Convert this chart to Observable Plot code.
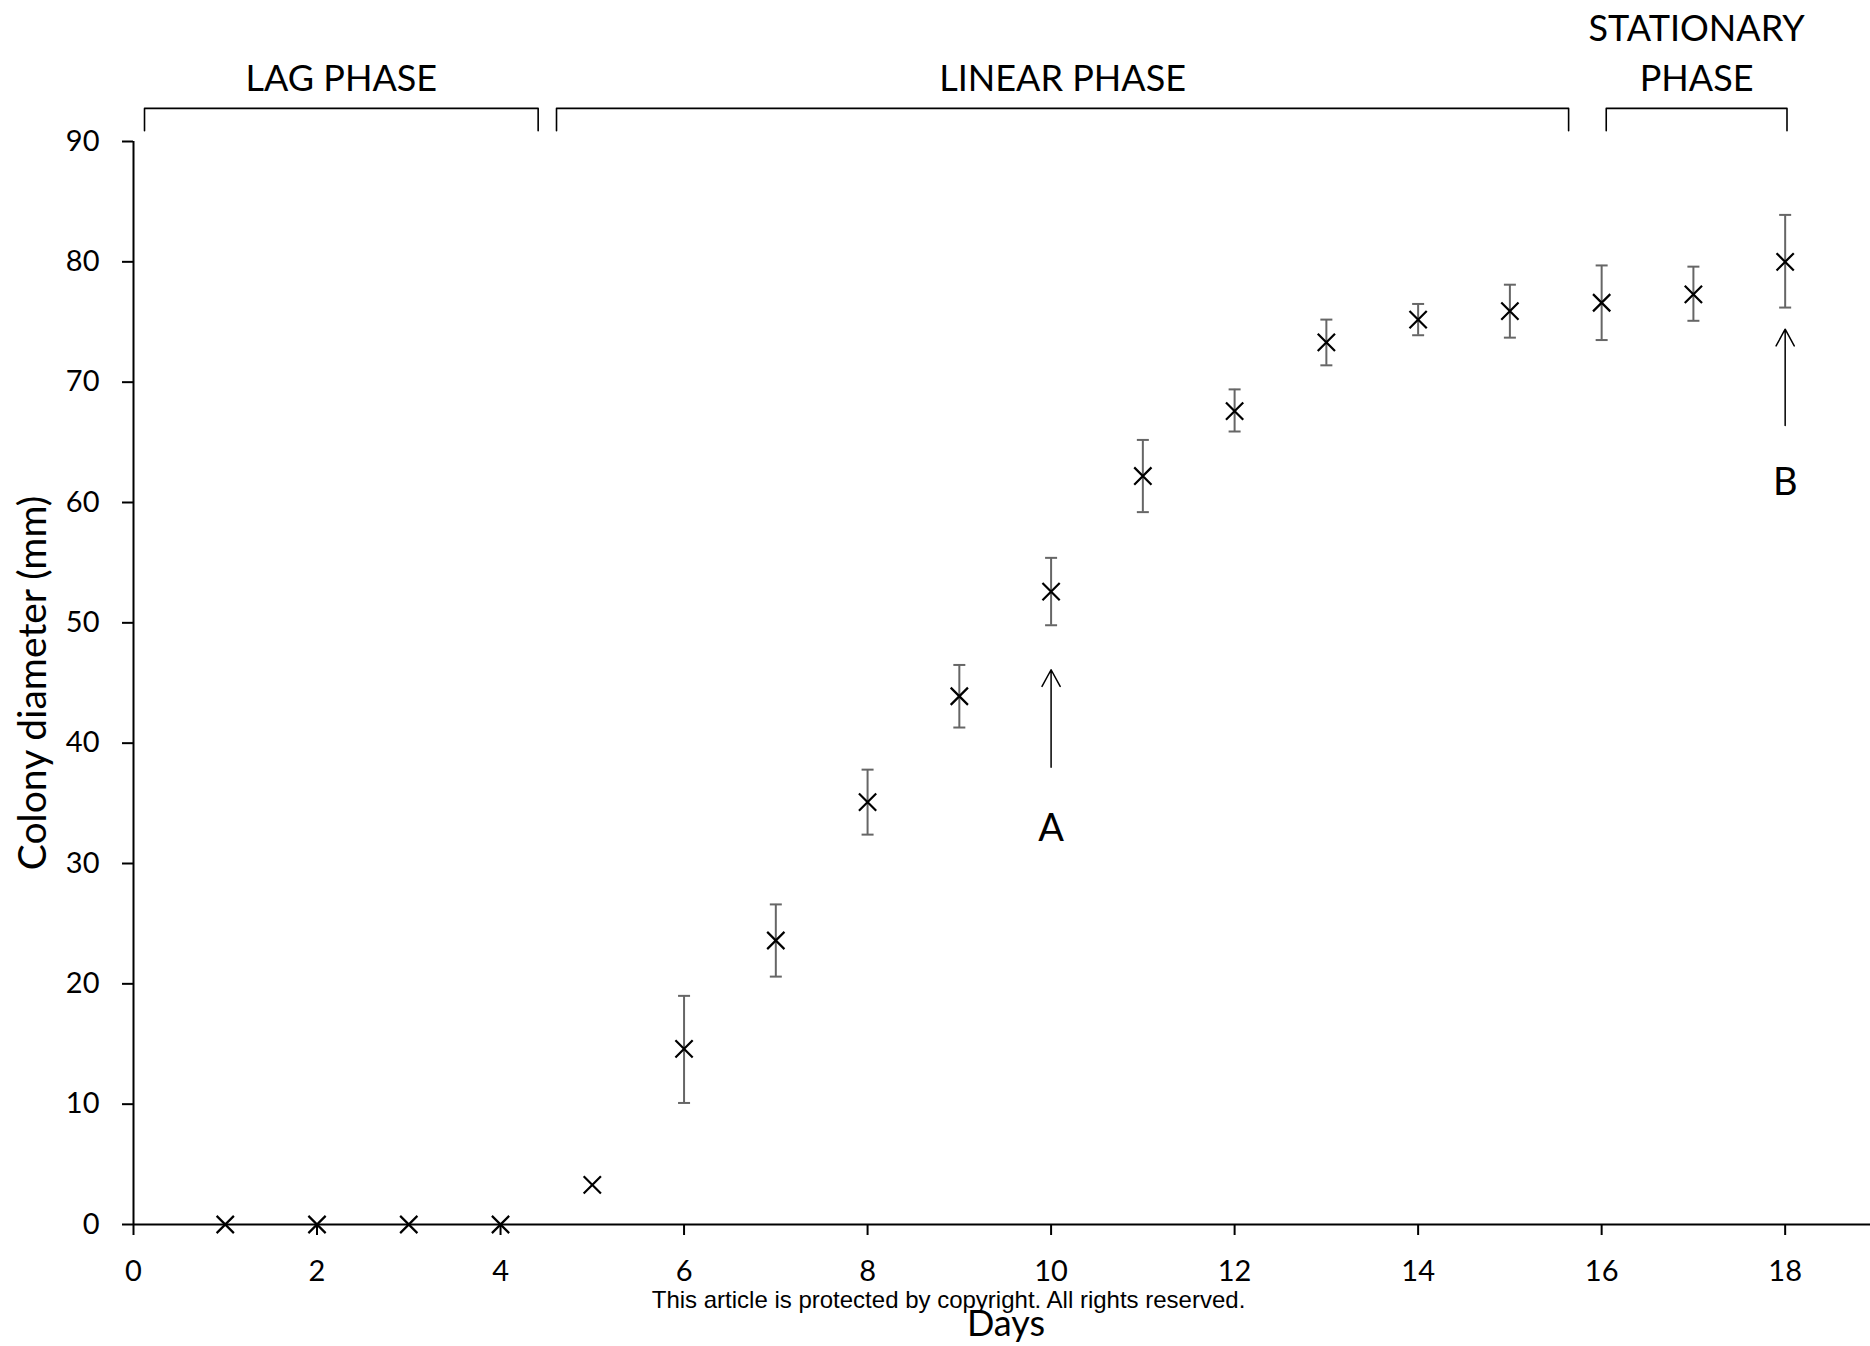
<!DOCTYPE html>
<html><head><meta charset="utf-8">
<script src="https://cdn.jsdelivr.net/npm/d3@7"></script>
<script src="https://cdn.jsdelivr.net/npm/@observablehq/plot@0.6"></script>
<style>html,body{margin:0;padding:0;background:#fff}#chart svg{display:block;max-width:none}</style>
</head><body><div id="chart"></div>
<script>
const days = [1,2,3,4,5,6,7,8,9,10,11,12,13,14,15,16,17,18];
const diameter = [0,0,0,0,3.3,14.6,23.6,35.1,43.9,52.6,62.2,67.6,73.3,75.2,75.9,76.6,77.3,80.0];
const errLow   = [0,0,0,0,3.3,10.1,20.6,32.4,41.3,49.8,59.2,65.9,71.4,73.9,73.7,73.5,75.1,76.2];
const errHigh  = [0,0,0,0,3.3,19.0,26.6,37.8,46.5,55.4,65.2,69.4,75.2,76.5,78.1,79.7,79.6,83.9];
const xTicks = [0,2,4,6,8,10,12,14,16,18];
const yTicks = [0,10,20,30,40,50,60,70,80,90];
const phaseNames = ["LAG PHASE","LINEAR PHASE","STATIONARY\nPHASE"];
const phaseStart = [0.12,4.61,16.05];
const phaseEnd   = [4.41,15.64,18.02];
const arrowLabels = ["A","B"];
const arrowDays   = [10,18];
const arrowFrom   = [38.0,66.4];
const arrowTo     = [46.1,74.4];
const arrowTextY  = [32.9,61.6];

const points = days.map((d,i)=>({day:d, value:diameter[i], low:errLow[i], high:errHigh[i]}));
const bars = points.filter(p => p.high > p.low);
const phases = phaseNames.map((n,i)=>({name:n, start:phaseStart[i], end:phaseEnd[i], mid:(phaseStart[i]+phaseEnd[i])/2}));
const bracketTop = 92.75, bracketFoot = 90.9, phaseBaseline = 94.16;
const brackets = phases.flatMap(p => [
  {z:p.name, x:p.start, y:bracketFoot},
  {z:p.name, x:p.start, y:bracketTop},
  {z:p.name, x:p.end, y:bracketTop},
  {z:p.name, x:p.end, y:bracketFoot}
]);
const arrows = arrowLabels.map((l,i)=>({label:l, day:arrowDays[i], from:arrowFrom[i], to:arrowTo[i], ty:arrowTextY[i]}));
const capSymbol = {draw(ctx, size){ const w = Math.sqrt(size/Math.PI); ctx.moveTo(-w,0); ctx.lineTo(w,0); }};

const chart = Plot.plot({
  width: 1870, height: 1346,
  marginLeft: 133, marginRight: 0, marginTop: 141, marginBottom: 122,
  style: {fontFamily: "Lato, sans-serif", color: "#000", background: "#fff", overflow: "visible"},
  x: {domain: [0, 18.93]},
  y: {domain: [0, 90]},
  marks: [
    Plot.axisX({ticks: xTicks, tickSize: 11, tickPadding: 25, strokeWidth: 2, fontSize: 29, label: null, tickFormat: d => String(d)}),
    Plot.axisY({ticks: yTicks, tickSize: 11, tickPadding: 23, strokeWidth: 2, fontSize: 29, label: null, tickFormat: d => String(d)}),
    Plot.ruleY([0], {stroke: "#000", strokeWidth: 2}),
    Plot.ruleX([0], {stroke: "#000", strokeWidth: 2}),
    Plot.ruleX(bars, {x: "day", y1: "low", y2: "high", stroke: "#666", strokeWidth: 2}),
    Plot.dot(bars, {x: "day", y: "low", symbol: capSymbol, r: 6, fill: "none", stroke: "#666", strokeWidth: 2}),
    Plot.dot(bars, {x: "day", y: "high", symbol: capSymbol, r: 6, fill: "none", stroke: "#666", strokeWidth: 2}),
    Plot.dot(points, {x: "day", y: "value", symbol: "times", r: 7.9, stroke: "#000", strokeWidth: 2.2}),
    Plot.line(brackets, {x: "x", y: "y", z: "z", stroke: "#000", strokeWidth: 1.6}),
    Plot.text(phases, {x: "mid", y: () => phaseBaseline, text: "name", lineAnchor: "bottom", lineHeight: 1.39, fontSize: 36}),
    Plot.arrow(arrows, {x1: "day", x2: "day", y1: "from", y2: "to", stroke: "#000", strokeWidth: 1.5, headLength: 19, headAngle: 57, insetStart: 0, insetEnd: 0, bend: 0}),
    Plot.text(arrows, {x: "day", y: "ty", text: "label", fontSize: 38, lineAnchor: "middle"}),
    Plot.text(["Colony diameter (mm)"], {text: d => d, frameAnchor: "left", textAnchor: "middle", lineAnchor: "middle", rotate: -90, dx: -100, fontSize: 39}),
    Plot.text(["Days"], {text: d => d, frameAnchor: "bottom", textAnchor: "middle", lineAnchor: "bottom", dy: 111, dx: 4, fontSize: 36}),
    Plot.text(["This article is protected by copyright. All rights reserved."], {text: d => d, frameAnchor: "bottom", textAnchor: "middle", lineAnchor: "bottom", dy: 83, dx: -53.5, fontSize: 24, fontFamily: "'Liberation Sans', Arial, sans-serif"})
  ]
});
document.getElementById("chart").appendChild(chart);
</script></body></html>
